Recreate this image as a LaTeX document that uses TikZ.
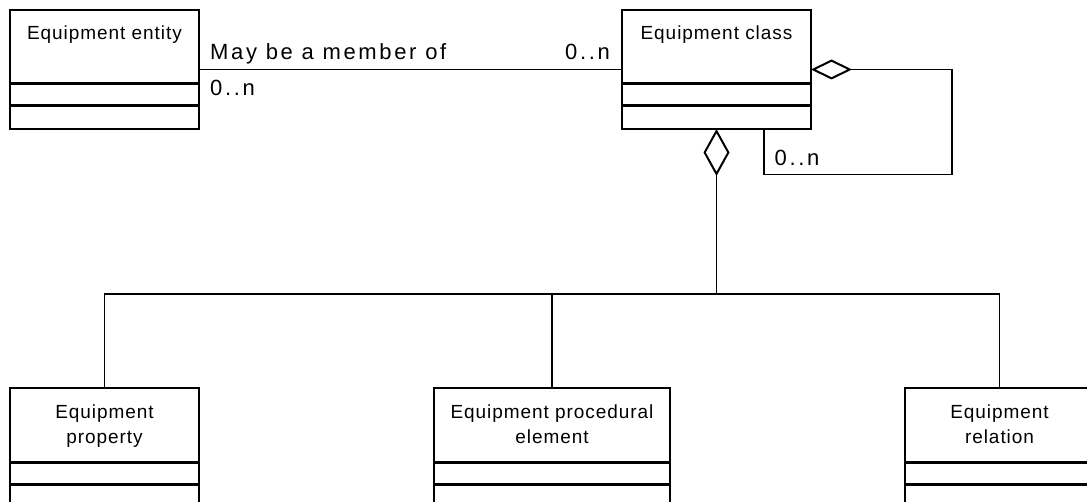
\documentclass[tikz,border=0pt]{standalone}
\usepackage{fontspec}
\setmainfont{Liberation Sans}
\usepackage{tikz}
\usetikzlibrary{arrows.meta, positioning, calc}
\newfontfamily\umlfont[LetterSpace=5]{Liberation Sans}
\newfontfamily\rolefont[LetterSpace=12]{Liberation Sans}
\tikzstyle{classbox} = [rectangle, draw=black, line width=2pt, minimum width=189pt, minimum height=119pt, inner sep=0pt, outer sep=0pt, anchor=north, align=center, text height=30pt, text depth=89pt, font=\umlfont\fontsize{19}{25}\selectfont]
\tikzstyle{twoline} = [text height=55pt, text depth=64pt]
\tikzstyle{compline} = [line width=3pt]
\tikzstyle{assoc} = [line width=1.8pt]
\tikzstyle{rolelabel} = [inner sep=0pt, font=\rolefont\fontsize{22}{25}\selectfont]
\tikzstyle{aggrright} = [assoc, {Diamond[open, length=41pt, width=20pt, line width=2pt]}-]
\tikzstyle{aggrdown} = [assoc, {Diamond[open, length=47pt, width=26pt, line width=2pt]}-]

\begin{document}
\begin{tikzpicture}[x=1pt, y=-1pt]
\clip (0,0) rectangle (1087,502);
\fill[white] (0,0) rectangle (1087,502);

% ===== CLASSES =====
\node (entity) [classbox] at (104.5, 10) {Equipment entity};
\node (eqclass) [classbox] at (716.5, 10) {Equipment class};

\node (property) [classbox, twoline] at (104.5, 388) {Equipment\\property};
\node (procelement) [classbox, twoline, minimum width=236pt] at (552, 388) {Equipment procedural\\element};
\node (relation) [classbox, twoline] at (999.5, 388) {Equipment\\relation};

% compartments
\foreach \n in {entity, eqclass, property, procelement, relation} {
  \draw [compline] ([yshift=-74pt]\n.north west) -- ([yshift=-74pt]\n.north east);
  \draw [compline] ([yshift=-96pt]\n.north west) -- ([yshift=-96pt]\n.north east);
}

% ===== MEMBERSHIP =====
\draw [assoc] (entity.east) -- (eqclass.west);
\node (member_lbl) [rolelabel, anchor=base west] at ([xshift=11pt, yshift=10pt]entity.east) {May be a member of};
\node (entity_mult) [rolelabel, anchor=north west] at ([xshift=11pt, yshift=-10pt]entity.east) {0..n};
\node (class_mult) [rolelabel, anchor=base east] at ([xshift=-12pt, yshift=10pt]eqclass.west) {0..n};

% ===== SELF AGGREGATION =====
\draw [aggrright] (eqclass.east) -- ++(141,0) -- ++(0,105) -| ([xshift=47.5pt]eqclass.south);
\node (loop_mult) [rolelabel, anchor=base west] at ([xshift=58pt, yshift=-37pt]eqclass.south) {0..n};

% ===== PARTS =====
\coordinate (bus) at (716.5, 294);
\draw [aggrdown] (eqclass.south) -- (bus);
\draw [assoc] (property.north) -- ++(0,-94) -| (relation.north);
\draw [assoc] (procelement.north) -- ++(0,-94);

\end{tikzpicture}
\end{document}
